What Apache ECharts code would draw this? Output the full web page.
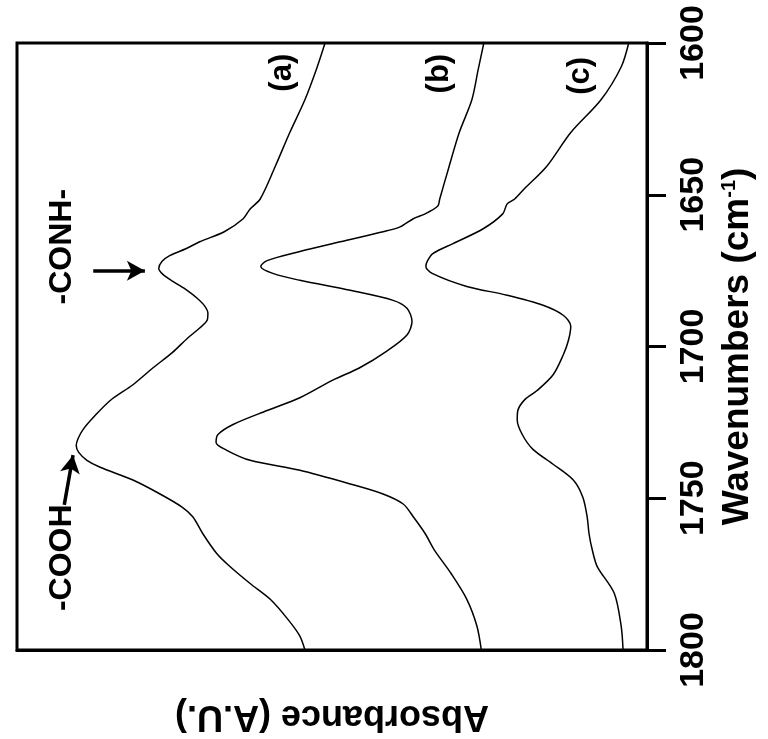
<!DOCTYPE html>
<html>
<head>
<meta charset="utf-8">
<script src="https://cdn.jsdelivr.net/npm/echarts@6/dist/echarts.min.js"></script>
<style>
  html, body { margin: 0; padding: 0; background: #fff; }
  #chart { width: 768px; height: 739px; }
</style>
</head>
<body>
<div id="chart"></div>
<script>
// FTIR spectra, 1600-1800 cm-1, drawn rotated: wavenumber runs down the page,
// absorbance grows to the left. Each point is [absorbance (A.U.), wavenumber].
const spectrumA = [
  [0.511, 1600.0], [0.525, 1608.8], [0.543, 1618.7], [0.567, 1629.5], [0.590, 1640.6],
  [0.614, 1651.4], [0.630, 1654.7], [0.641, 1657.9], [0.671, 1662.2], [0.710, 1665.5],
  [0.732, 1667.8], [0.757, 1670.0], [0.770, 1672.0], [0.775, 1674.3], [0.768, 1676.3],
  [0.752, 1678.6], [0.730, 1681.5], [0.714, 1684.1], [0.702, 1686.7], [0.697, 1689.0],
  [0.698, 1691.3], [0.710, 1693.9], [0.729, 1697.2], [0.754, 1702.1], [0.784, 1707.0],
  [0.816, 1712.6], [0.852, 1717.8], [0.879, 1723.4], [0.895, 1727.3], [0.903, 1730.3],
  [0.906, 1732.6], [0.902, 1734.9], [0.889, 1737.5], [0.868, 1739.8], [0.816, 1744.0],
  [0.773, 1748.6], [0.738, 1752.9], [0.721, 1756.1], [0.705, 1761.7], [0.683, 1768.2],
  [0.662, 1772.5], [0.630, 1778.1], [0.598, 1783.3], [0.570, 1789.9], [0.551, 1795.4],
  [0.543, 1800.0]
];

const spectrumB = [
  [0.259, 1600.0], [0.268, 1608.8], [0.278, 1618.7], [0.298, 1629.5], [0.314, 1640.6],
  [0.329, 1651.4], [0.332, 1653.7], [0.352, 1656.3], [0.371, 1657.9], [0.392, 1660.6],
  [0.419, 1662.2], [0.487, 1665.5], [0.551, 1668.7], [0.603, 1671.7], [0.613, 1673.6],
  [0.594, 1675.9], [0.551, 1678.2], [0.471, 1681.5], [0.403, 1684.8], [0.381, 1687.4],
  [0.373, 1691.7], [0.381, 1696.2], [0.413, 1701.5], [0.456, 1707.0], [0.498, 1711.0],
  [0.551, 1716.9], [0.603, 1721.1], [0.657, 1725.7], [0.681, 1729.0], [0.684, 1731.6],
  [0.667, 1734.2], [0.630, 1737.5], [0.551, 1740.8], [0.471, 1745.3], [0.419, 1748.6],
  [0.387, 1751.9], [0.371, 1756.1], [0.352, 1761.7], [0.338, 1766.9], [0.311, 1774.8],
  [0.286, 1783.3], [0.270, 1792.1], [0.263, 1800.0]
];

const spectrumC = [
  [0.029, 1600.0], [0.041, 1607.9], [0.073, 1618.7], [0.121, 1629.5], [0.159, 1640.6],
  [0.195, 1648.1], [0.210, 1651.4], [0.222, 1653.0], [0.229, 1656.3], [0.260, 1661.2],
  [0.308, 1666.1], [0.340, 1669.4], [0.349, 1672.0], [0.351, 1673.6], [0.341, 1675.9],
  [0.286, 1680.2], [0.222, 1683.1], [0.165, 1686.4], [0.133, 1689.7], [0.121, 1693.3],
  [0.125, 1698.2], [0.133, 1702.8], [0.149, 1709.3], [0.175, 1714.6], [0.194, 1717.5],
  [0.205, 1721.1], [0.206, 1724.1], [0.198, 1729.0], [0.181, 1733.9], [0.149, 1738.8],
  [0.117, 1744.0], [0.102, 1749.6], [0.095, 1756.1], [0.092, 1761.7], [0.087, 1766.9],
  [0.079, 1772.5], [0.052, 1781.3], [0.041, 1792.1], [0.038, 1800.0]
];

// Wavenumber axis ticks
const wavenumberTicks = [1600, 1650, 1700, 1750, 1800];

// Curve tags and band assignments: [absorbance, wavenumber, text]
const curveTags = [
  [0.578, 1609.8, '(a)'],
  [0.330, 1610.1, '(b)'],
  [0.105, 1610.8, '(c)']
];
const bandLabels = [
  [0.929, 1667.1, '-CONH-'],
  [0.929, 1769.6, '-COOH']
];
// Arrows pointing at the band maxima: [from, to]
const bandArrows = [
  [[0.879, 1675.0], [0.797, 1675.0]],
  [[0.925, 1752.2], [0.911, 1735.8]]
];

const FONT = 'Liberation Sans, Arial, Helvetica, sans-serif';

const chart = echarts.init(document.getElementById('chart'));

function spectrumSeries(data) {
  return {
    type: 'line',
    data: data,
    showSymbol: false,
    smooth: 0.3,
    lineStyle: { color: '#000', width: 1.5 },
    silent: true,
    animation: false
  };
}

function textSeries(items, size) {
  return {
    type: 'scatter',
    symbolSize: 0,
    silent: true,
    itemStyle: { color: '#000' },
    data: items.map(t => ({ value: [t[0], t[1]], name: t[2] })),
    label: {
      show: true, position: 'inside', rotate: 90,
      formatter: p => p.name,
      fontFamily: FONT, fontSize: size, fontWeight: 'bold',
      color: '#000', textBorderWidth: 0, opacity: 1
    }
  };
}

const arrowLayer = textSeries(bandLabels, 32);
arrowLayer.markLine = {
  silent: true,
  symbol: ['none', 'arrow'],
  symbolSize: [15, 18],
  label: { show: false },
  lineStyle: { color: '#000', width: 3.5, type: 'solid' },
  data: bandArrows.map(a => [{ coord: a[0] }, { coord: a[1] }])
};

const option = {
  backgroundColor: '#fff',
  animation: false,
  grid: {
    left: 17, right: 121, top: 43, bottom: 85,
    show: true, borderColor: '#000', borderWidth: 3, backgroundColor: 'transparent'
  },
  xAxis: {
    type: 'value',
    min: 0, max: 1,
    inverse: true,
    axisLine: { show: true, lineStyle: { color: '#000', width: 3 } },
    axisTick: { show: false },
    axisLabel: { show: false },
    splitLine: { show: false },
    name: 'Absorbance (A.U.)',
    nameLocation: 'middle',
    nameRotate: 180,
    nameGap: 48,
    nameTextStyle: { fontFamily: FONT, fontSize: 36, fontWeight: 'bold', color: '#000' }
  },
  yAxis: {
    type: 'value',
    position: 'right',
    min: wavenumberTicks[0],
    max: wavenumberTicks[wavenumberTicks.length - 1],
    interval: 50,
    inverse: true,
    axisLine: { show: true, lineStyle: { color: '#000', width: 3 } },
    axisTick: { show: true, inside: false, length: 19, lineStyle: { color: '#000', width: 3 } },
    axisLabel: {
      rotate: 90, margin: 30,
      formatter: v => String(v),
      fontFamily: FONT, fontSize: 34, fontWeight: 'bold', color: '#000'
    },
    splitLine: { show: false },
    name: 'Wavenumbers (cm{sup|-1})',
    nameLocation: 'middle',
    nameRotate: 90,
    nameGap: 72,
    nameTextStyle: {
      fontFamily: FONT, fontSize: 37, fontWeight: 'bold', color: '#000',
      rich: {
        sup: { fontFamily: FONT, fontSize: 20, fontWeight: 'bold', color: '#000', verticalAlign: 'top', padding: [0, 0, 16, 0] }
      }
    }
  },
  series: [
    spectrumSeries(spectrumA),
    spectrumSeries(spectrumB),
    spectrumSeries(spectrumC),
    textSeries(curveTags, 31),
    arrowLayer
  ]
};

chart.setOption(option);
</script>
</body>
</html>
